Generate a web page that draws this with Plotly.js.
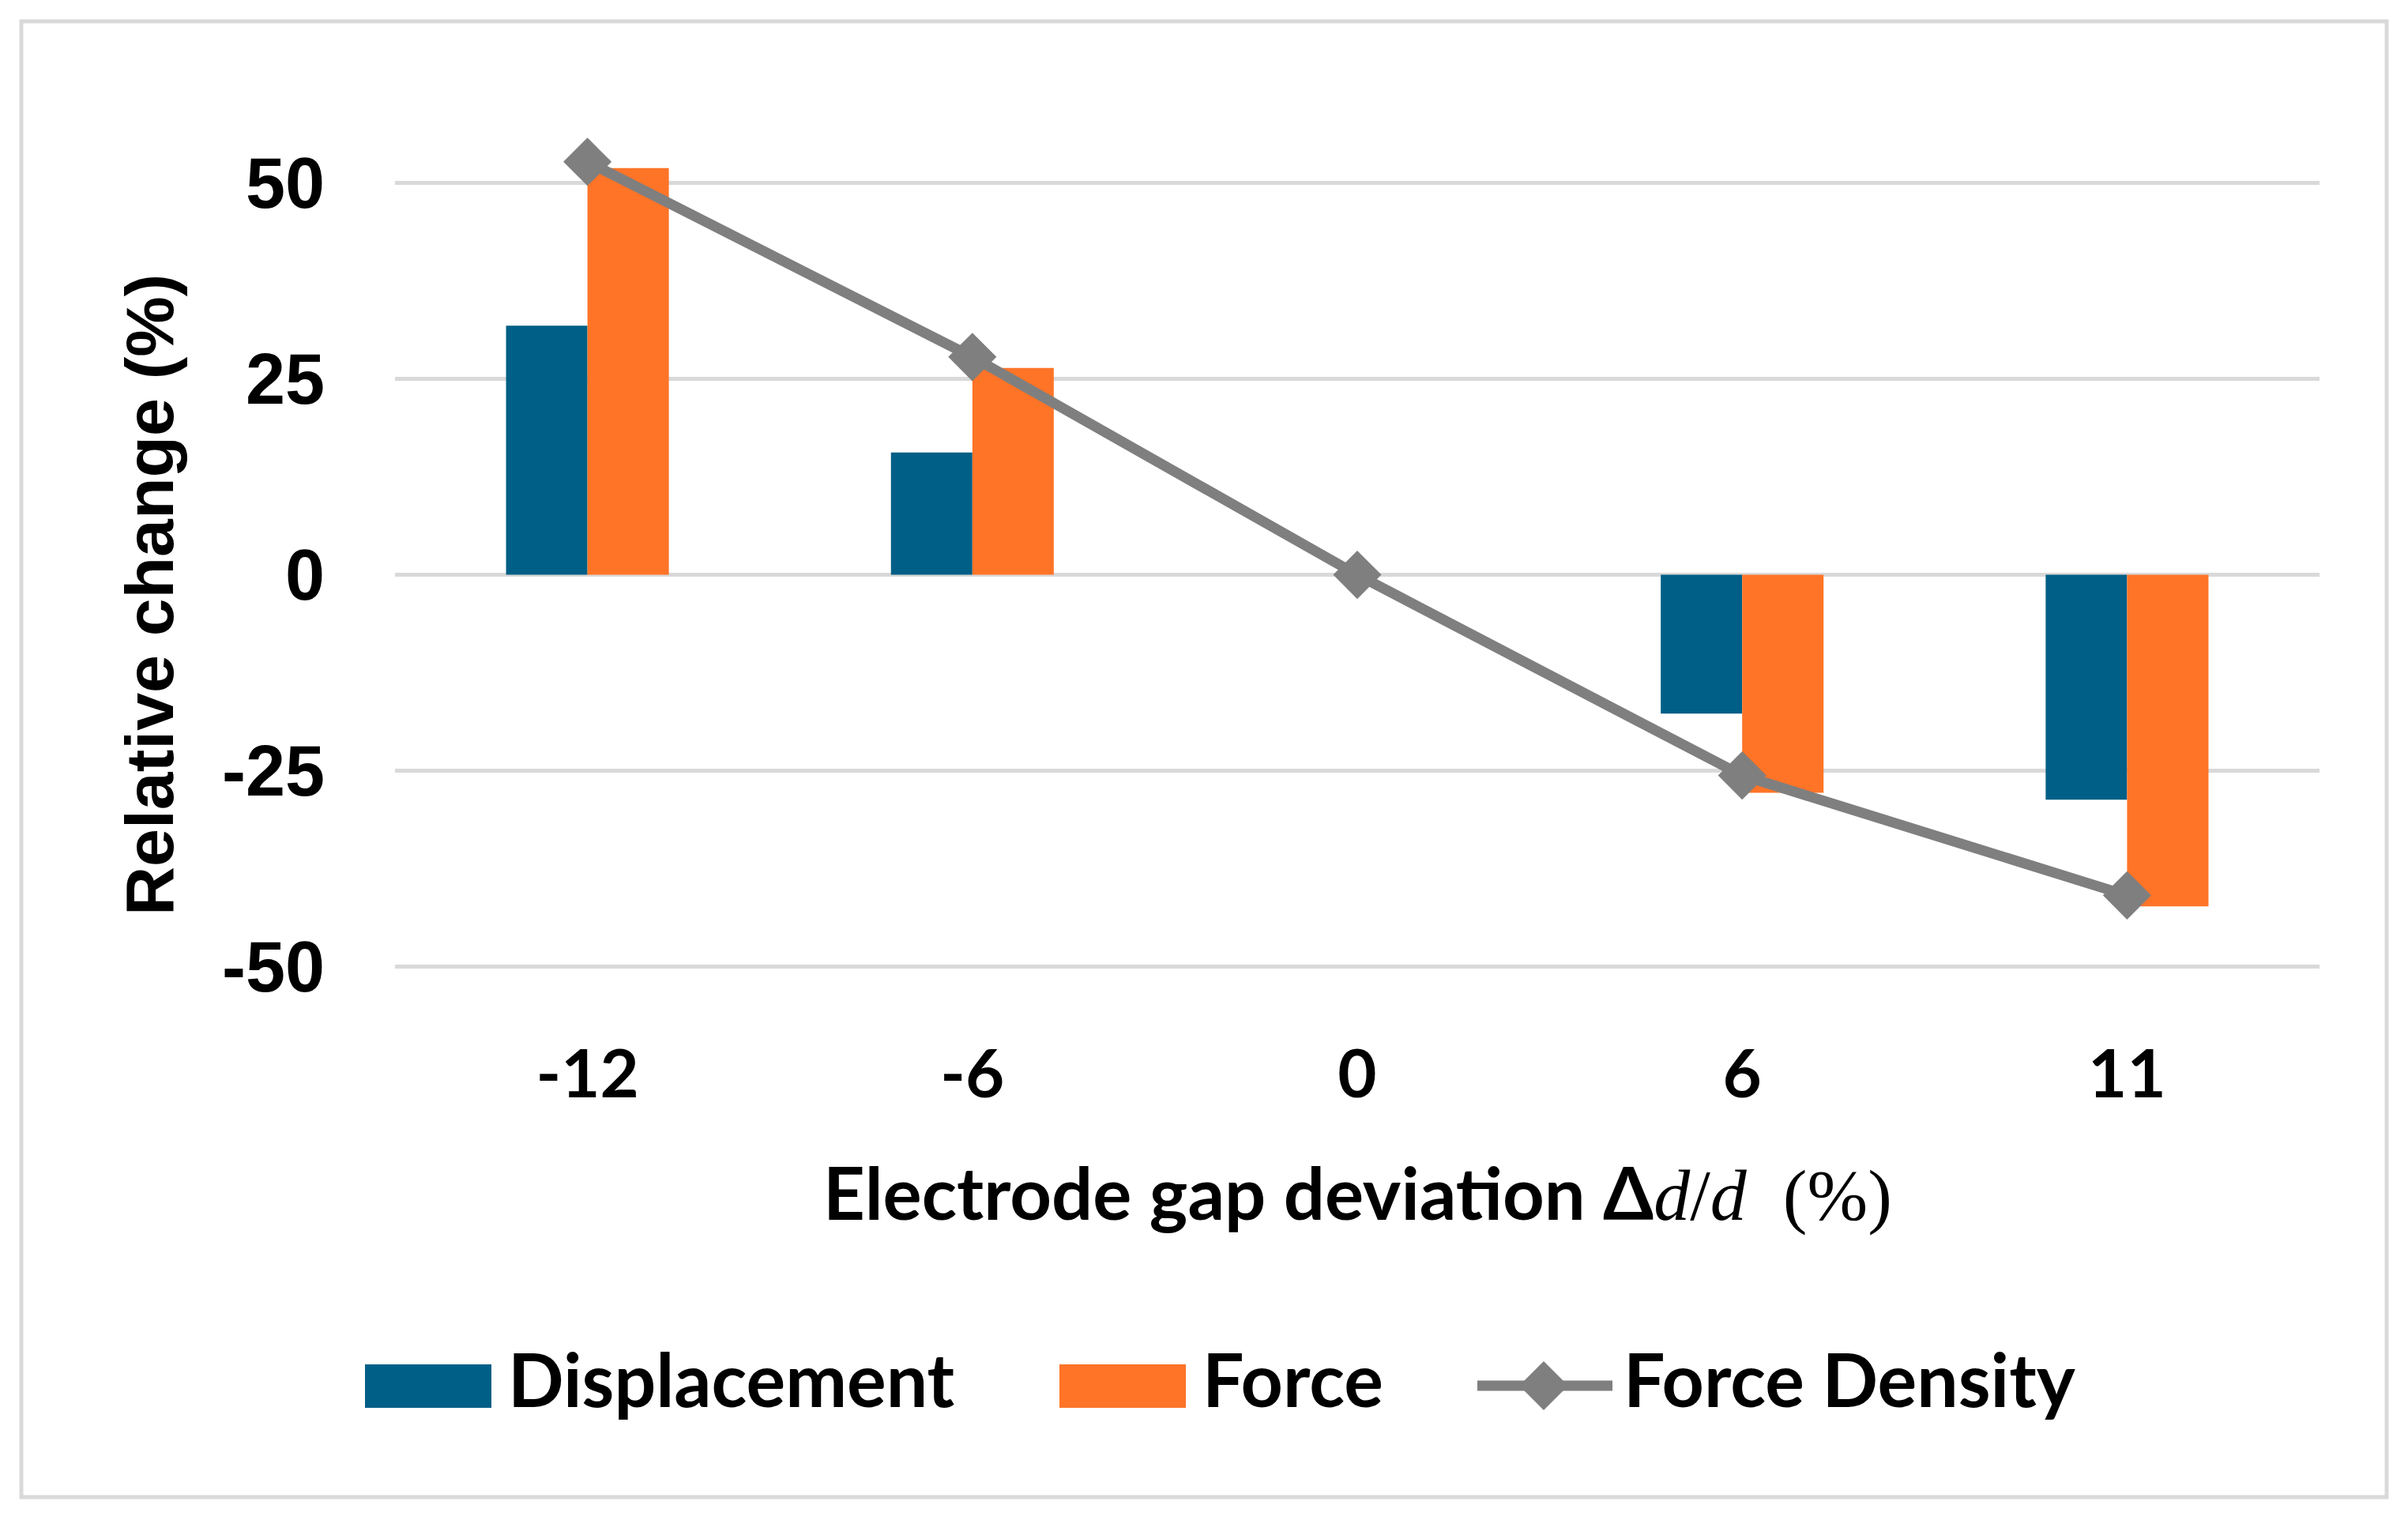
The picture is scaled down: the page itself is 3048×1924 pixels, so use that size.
<!DOCTYPE html>
<html>
<head>
<meta charset="utf-8">
<script src="https://cdn.plot.ly/plotly-3.0.1.min.js"></script>
<style>html,body{margin:0;padding:0;background:#fff;}#chart{width:3048px;height:1924px;}</style>
</head>
<body>
<div id="chart"></div>
<script>
// ---- data ----
const categories = ['-12', '-6', '0', '6', '11'];
const displacement = [31.8, 15.6, 0, -17.7, -28.7];
const force = [51.9, 26.4, 0, -27.8, -42.3];
const forceDensity = [52.7, 27.8, 0, -25.6, -40.9];
const yTicks = [-50, -25, 0, 25, 50];

// ---- layout geometry ----
const W = 3048, H = 1924;
const M = {l: 500, r: 112, t: 182, b: 621};
const PW = W - M.l - M.r, PH = H - M.t - M.b;
const px = x => (x - M.l) / PW;
const py = y => (H - M.b - y) / PH;

const BLUE = '#005f86', ORANGE = '#ff7427', GREY = '#7f7f7f', GRID = '#d9d9d9';
const LATO = 'Lato, "Open Sans", sans-serif';

const traces = [
  {type: 'bar', name: 'Displacement', x: categories, y: displacement, marker: {color: BLUE}, showlegend: false},
  {type: 'bar', name: 'Force', x: categories, y: force, marker: {color: ORANGE}, showlegend: false},
  {type: 'scatter', mode: 'lines+markers', name: 'Force Density', x: categories, y: forceDensity,
   line: {color: GREY, width: 13}, marker: {symbol: 'diamond', size: 47, color: GREY},
   cliponaxis: false, showlegend: false}
];

const legY = 1754;
const legTextY = 1745;
const shapes = [
  {type: 'rect', xref: 'paper', yref: 'paper', x0: px(27), x1: px(3021), y0: py(27), y1: py(1895),
   line: {color: GRID, width: 5}, fillcolor: 'rgba(0,0,0,0)', layer: 'below'},
  {type: 'rect', xref: 'paper', yref: 'paper', x0: px(462), x1: px(622), y0: py(1727), y1: py(1782),
   line: {width: 0}, fillcolor: BLUE},
  {type: 'rect', xref: 'paper', yref: 'paper', x0: px(1341), x1: px(1501), y0: py(1727), y1: py(1782),
   line: {width: 0}, fillcolor: ORANGE},
  {type: 'line', xref: 'paper', yref: 'paper', x0: px(1870), x1: px(2041), y0: py(legY), y1: py(legY),
   line: {color: GREY, width: 13}},
  {type: 'path', xref: 'paper', yref: 'paper',
   path: `M ${px(1954)} ${py(legY - 31)} L ${px(1985)} ${py(legY)} L ${px(1954)} ${py(legY + 31)} L ${px(1923)} ${py(legY)} Z`,
   line: {width: 0}, fillcolor: GREY}
];

const legFont = {family: LATO, size: 93, color: '#000', weight: 700};
const annotations = [
  {xref: 'paper', yref: 'paper', x: px(641), y: py(legTextY), xanchor: 'left', yanchor: 'middle',
   text: 'Displacement', showarrow: false, font: legFont},
  {xref: 'paper', yref: 'paper', x: px(1520), y: py(legTextY), xanchor: 'left', yanchor: 'middle',
   text: 'Force', showarrow: false, font: legFont},
  {xref: 'paper', yref: 'paper', x: px(2053), y: py(legTextY), xanchor: 'left', yanchor: 'middle',
   text: 'Force Density', showarrow: false, font: legFont},
  {xref: 'paper', yref: 'paper', x: px(1718), y: py(1508), xanchor: 'center', yanchor: 'middle',
   text: 'Electrode gap deviation Δ<span style="font-family:\'Liberation Serif\',serif;font-weight:normal"><i>d</i>/<i>d</i>&nbsp;&nbsp;(%)</span>',
   showarrow: false, font: {family: LATO, size: 92, color: '#000', weight: 700}},
  {xref: 'paper', yref: 'paper', x: px(189), y: py(753), xanchor: 'center', yanchor: 'middle', textangle: -90,
   text: 'Relative change (%)', showarrow: false,
   font: {family: '"Liberation Sans", Arial, sans-serif', size: 86, color: '#000', weight: 700}}
];

const layout = {
  width: W, height: H,
  margin: M,
  paper_bgcolor: '#fff', plot_bgcolor: '#fff',
  barmode: 'group', bargap: 0.577, bargroupgap: 0,
  showlegend: false,
  xaxis: {type: 'category', showgrid: false, zeroline: false, showline: false, ticks: '',
          ticklabelstandoff: 0,
          tickfont: {family: LATO, size: 85, color: '#000', weight: 700}},
  yaxis: {range: [-58, 55], tickvals: yTicks, ticktext: yTicks.map(String),
          showgrid: true, gridcolor: GRID, gridwidth: 5, zeroline: false, showline: false, ticks: '',
          ticklabelstandoff: 88,
          tickfont: {family: '"Liberation Sans", Arial, sans-serif', size: 90, color: '#000', weight: 700}},
  shapes: shapes,
  annotations: annotations
};

Plotly.newPlot('chart', traces, layout, {staticPlot: true, displayModeBar: false});
</script>
</body>
</html>
